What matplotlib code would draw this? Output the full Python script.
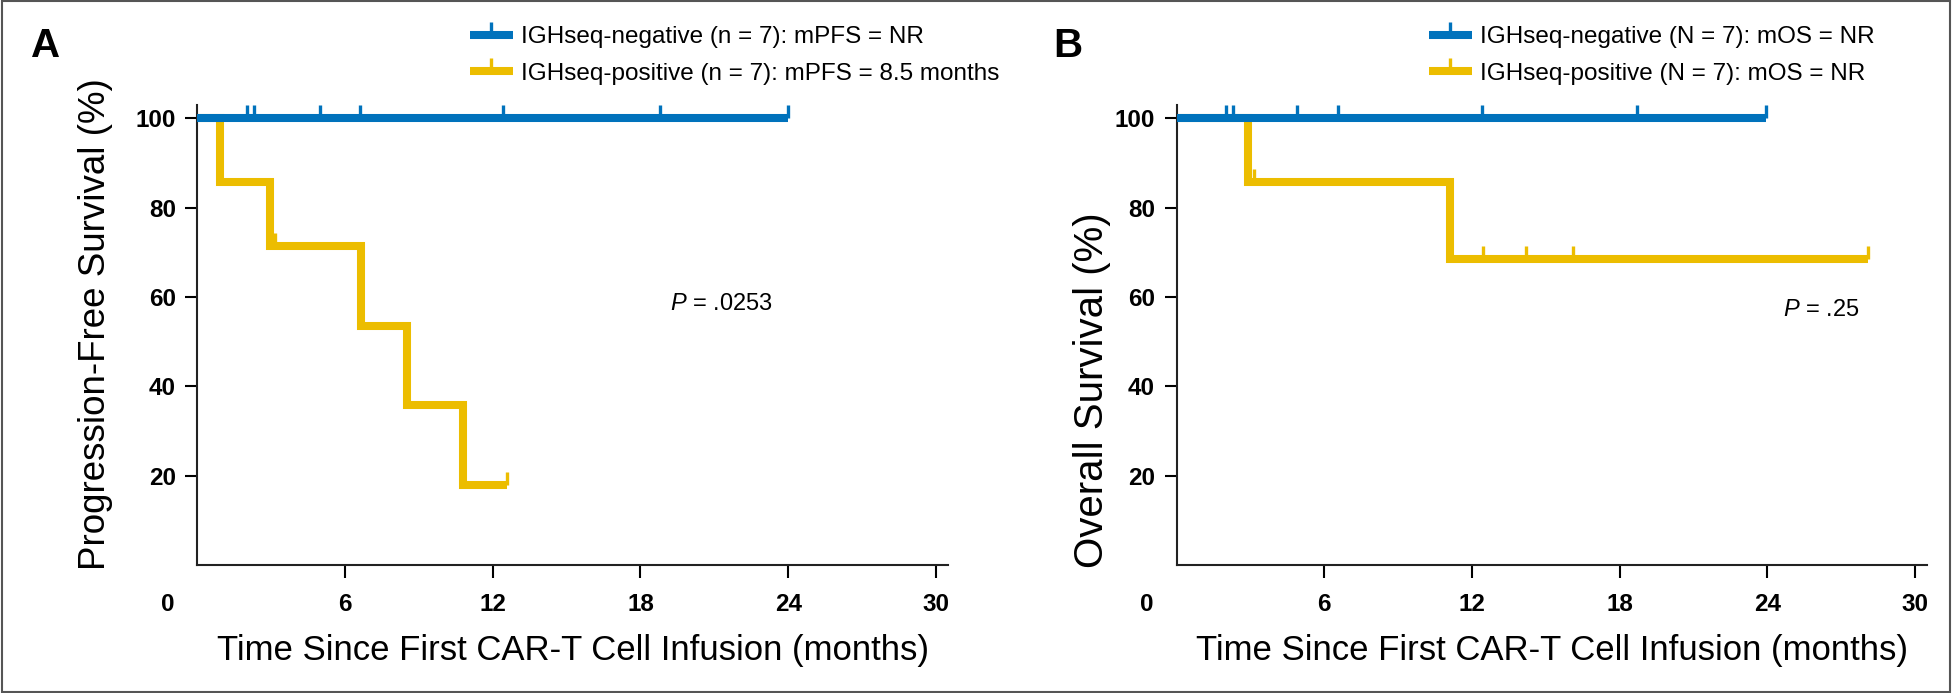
import matplotlib
matplotlib.use("Agg")
import matplotlib.pyplot as plt
from matplotlib.lines import Line2D
from matplotlib.patches import Rectangle
import numpy as np

# months
a_neg_events = []
a_neg_censor = [2.0, 2.3, 5.0, 6.6, 12.4, 18.8, 24.0]
a_pos_events = [0.92, 2.95, 6.64, 8.5, 10.78]
a_pos_censor = [3.15, 12.57]

b_neg_events = []
b_neg_censor = [2.0, 2.3, 4.9, 6.55, 12.4, 18.7, 23.95]
b_pos_events = [2.92, 11.1]
b_pos_censor = [3.15, 12.44, 14.2, 16.1, 28.1]

x_ticks = [6, 12, 18, 24, 30]
y_ticks = [20, 40, 60, 80, 100]

legend_a = ["IGHseq-negative (n = 7): mPFS = NR",
            "IGHseq-positive (n = 7): mPFS = 8.5 months"]
legend_b = ["IGHseq-negative (N = 7): mOS = NR",
            "IGHseq-positive (N = 7): mOS = NR"]
p_a = ".0253"
p_b = ".25"

BLUE = "#0072BC"
YELLOW = "#ECBD00"

plt.rcParams['font.family'] = ['Liberation Sans', 'DejaVu Sans']
plt.rcParams['mathtext.fontset'] = 'custom'
plt.rcParams['mathtext.it'] = 'Liberation Sans:italic'
plt.rcParams['mathtext.rm'] = 'Liberation Sans'


def km(events, censor):
    # Kaplan-Meier step curve plus censor mark heights
    times = sorted([(t, 1) for t in events] + [(t, 0) for t in censor])
    n = len(times)
    s = 100.0
    xs, ys = [0.0], [100.0]
    cx, cy = [], []
    for t, e in times:
        if e:
            s = s * (n - 1) / n
            xs.append(t)
            ys.append(s)
        else:
            cx.append(t)
            cy.append(s)
        n -= 1
    last = max(events + censor)
    xs.append(last)
    ys.append(s)
    return xs, ys, cx, cy


def draw_curve(ax, events, censor, color, z):
    xs, ys, cx, cy = km(events, censor)
    ax.step(xs, ys, where='post', color=color, lw=5.8, zorder=z,
            solid_joinstyle='miter', solid_capstyle='butt', clip_on=False)
    ax.plot(cx, cy, linestyle='none', marker=2, markersize=9.5,
            markeredgewidth=2.4, color=color, zorder=z, clip_on=False)


def setup_axes(ax):
    ax.set_xlim(0, 30.5)
    ax.set_ylim(0, 103)
    ax.set_xticks(x_ticks)
    ax.set_yticks(y_ticks)
    ax.spines['top'].set_visible(False)
    ax.spines['right'].set_visible(False)
    for s in ['left', 'bottom']:
        ax.spines[s].set_linewidth(1.5)
        ax.spines[s].set_color('#222222')
    ax.tick_params(axis='x', length=9.5, width=1.5, pad=10.5, labelsize=17.5)
    ax.tick_params(axis='y', length=8.5, width=1.5, pad=7, labelsize=17.5)
    for lab in ax.get_xticklabels() + ax.get_yticklabels():
        lab.set_fontweight('bold')
    ax.annotate("0", xy=(-1.2, 0), xycoords=('data', 'axes fraction'),
                xytext=(0, -28.5), textcoords='offset points',
                ha='center', va='center', fontsize=17.5, fontweight='bold',
                annotation_clip=False)
    ax.text(0.5, -0.185, "Time Since First CAR-T Cell Infusion (months)",
            transform=ax.transAxes, ha='center', va='center', fontsize=25)


fig = plt.figure(figsize=(19.52, 6.93), dpi=100)
W, H = 1952.0, 693.0
ax_w = 750.9 / W
ax_h = 460.0 / H
ax_b = (H - 565.0) / H
ax1 = fig.add_axes([197.3 / W, ax_b, ax_w, ax_h])
ax2 = fig.add_axes([1176.5 / W, ax_b, ax_w, ax_h])

for ax in (ax1, ax2):
    setup_axes(ax)

draw_curve(ax1, a_pos_events, a_pos_censor, YELLOW, 3)
draw_curve(ax1, a_neg_events, a_neg_censor, BLUE, 4)
draw_curve(ax2, b_pos_events, b_pos_censor, YELLOW, 3)
draw_curve(ax2, b_neg_events, b_neg_censor, BLUE, 4)

ax1.text(-0.136, -0.011, "Progression-Free Survival (%)", transform=ax1.transAxes,
         rotation=90, ha='center', va='bottom', fontsize=26.5)
ax2.text(-0.1125, -0.0065, "Overall Survival (%)", transform=ax2.transAxes,
         rotation=90, ha='center', va='bottom', fontsize=29)

ax1.text(19.2, 58.4, r"$\mathit{P}$ = " + p_a, ha='left', va='center', fontsize=17)
ax2.text(24.63, 57.0, r"$\mathit{P}$ = " + p_b, ha='left', va='center', fontsize=17)

for ax, labels, x0 in ((ax1, legend_a, 470), (ax2, legend_b, 1429)):
    handles = [Line2D([], [], color=c, lw=5.8, marker=2, markersize=9.5,
                      markeredgewidth=2.4, solid_capstyle='butt')
               for c in (BLUE, YELLOW)]
    ax.legend(handles, labels, loc='upper left', bbox_to_anchor=(x0 / W, 0.962),
              bbox_transform=fig.transFigure, frameon=False, fontsize=17.5,
              borderpad=0, borderaxespad=0, handlelength=1.75,
              handletextpad=0.35, labelspacing=0.6, numpoints=1)

fig.text(46 / W, 1 - 46 / H, "A", ha='center', va='center', fontsize=29, fontweight='bold')
fig.text(1068 / W, 1 - 46 / H, "B", ha='center', va='center', fontsize=29, fontweight='bold')

fig.patches.append(Rectangle((0.001, 0.002), 0.998, 0.996, transform=fig.transFigure,
                             fill=False, edgecolor='#555555', lw=1.5))

fig.savefig("out.png", dpi=100)
